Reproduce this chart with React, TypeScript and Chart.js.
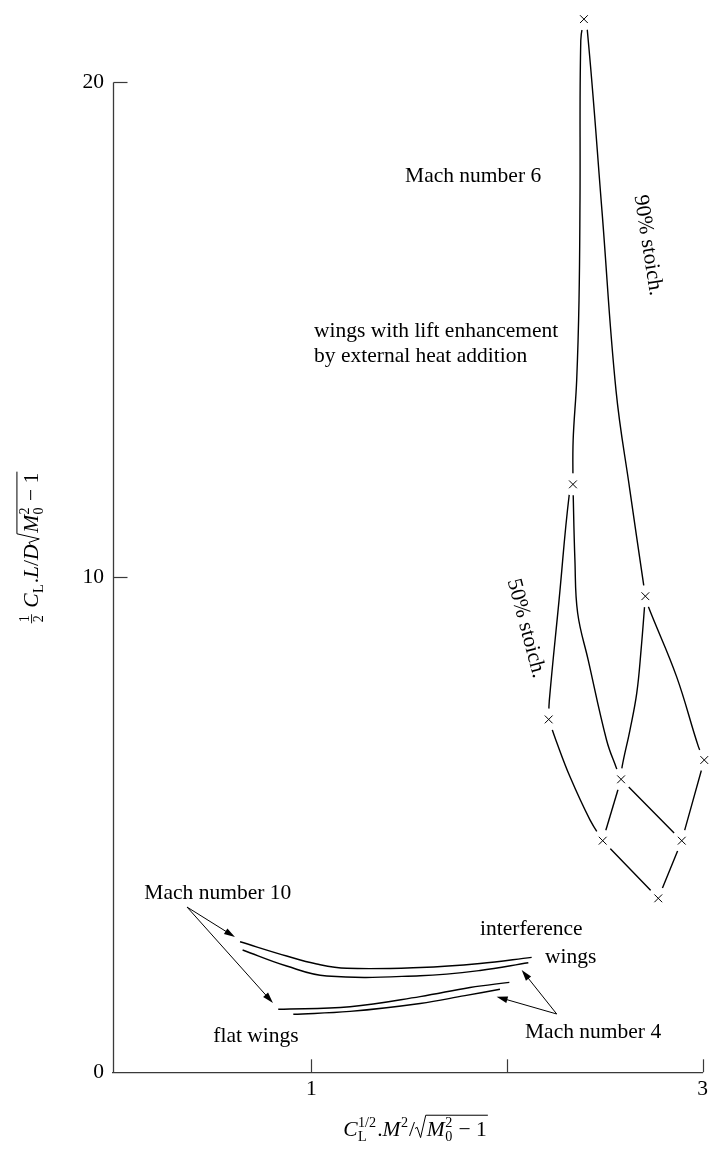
import React, { useEffect, useRef } from 'react';
import { Chart, registerables } from 'chart.js';

Chart.register(...registerables);

const FONT = '"Liberation Serif", "Times New Roman", Times, serif';
const FS = 21.5;
const AXIS = '#3a3a3a';

// axis ticks
const xTickValues = [1, 2, 3];
const xTickLabels = ['1', '', '3'];
const yTickValues = [0, 10, 20];
const yTickLabels = ['0', '10', '20'];
const yAxisLineTop = 20;

// "×" markers of the Mach 6 carpet (external heat addition)
const markerX = [2.393, 2.337, 2.707, 2.213, 2.583, 3.008, 2.489, 2.893, 2.773];
const markerY = [21.28, 11.88, 9.62, 7.13, 5.92, 6.31, 4.68, 4.68, 3.515];

// carpet line segments [x, y]
const segTopP1 = [[2.393, 21.28], [2.377, 20.85], [2.373, 17.62], [2.368, 15.6], [2.356, 13.98], [2.338, 12.77], [2.337, 11.88]];
const segP1P3 = [[2.337, 11.88], [2.318, 11.67], [2.266, 9.54], [2.216, 7.5], [2.213, 7.13]];
const segTopP2 = [[2.393, 21.28], [2.41, 21.07], [2.485, 17.42], [2.557, 13.78], [2.628, 11.76], [2.695, 9.94], [2.707, 9.62]];
const segP2P5 = [[2.707, 9.62], [2.722, 9.41], [2.867, 7.99], [2.978, 6.58], [3.008, 6.31]];
const segP1P4 = [[2.337, 11.88], [2.347, 10.35], [2.361, 9.28], [2.415, 8.33], [2.509, 6.71], [2.557, 6.17], [2.583, 5.92]];
const segP4P7 = [[2.583, 5.92], [2.893, 4.68]];
const segP2P4 = [[2.707, 9.62], [2.685, 8.53], [2.663, 7.66], [2.628, 6.91], [2.588, 6.17], [2.583, 5.92]];
const segP4P6 = [[2.583, 5.92], [2.489, 4.68]];
const segP5P7 = [[3.008, 6.31], [2.893, 4.68]];
const segP7P8 = [[2.893, 4.68], [2.773, 3.515]];
const segP3P6 = [[2.213, 7.13], [2.25, 6.71], [2.322, 5.97], [2.424, 5.1], [2.489, 4.68]];
const segP6P8 = [[2.489, 4.68], [2.773, 3.515]];

// low curves
const interferenceM10 = [[0.636, 2.638], [0.874, 2.349], [1.028, 2.188], [1.181, 2.101], [1.556, 2.117], [1.862, 2.198], [2.126, 2.323]];
const interferenceM4 = [[0.649, 2.471], [0.874, 2.147], [1.079, 1.945], [1.556, 1.952], [1.862, 2.057], [2.109, 2.214]];
const flatM10 = [[0.831, 1.273], [1.198, 1.325], [1.556, 1.53], [1.811, 1.713], [2.012, 1.818]];
const flatM4 = [[0.908, 1.172], [1.198, 1.23], [1.556, 1.39], [1.785, 1.55], [1.964, 1.677]];

// annotation arrows
const arrowFromX = [0.365, 0.365, 2.254, 2.254];
const arrowFromY = [3.339, 3.339, 1.178, 1.178];
const arrowToX = [0.61, 0.804, 2.075, 1.947];
const arrowToY = [2.733, 1.4, 2.067, 1.527];

// annotation texts (left x, baseline y)
const noteTexts = ['Mach number 6', 'wings with lift enhancement', 'by external heat addition', 'Mach number 10', 'flat wings', 'interference', 'wings', 'Mach number 4'];
const noteX = [1.479, 1.014, 1.014, 0.147, 0.499, 1.862, 2.194, 2.092];
const noteY = [17.99, 14.86, 14.36, 3.495, 0.612, 2.774, 2.208, 0.699];

// rotated texts (centre)
const rotTexts = ['90% stoich.', '50% stoich.'];
const rotX = [2.72, 2.097];
const rotY = [16.71, 8.97];
const rotDeg = [81, 75];

type Piece =
  | { k: 't'; s: string; it?: boolean }
  | { k: 'ss'; sub?: string; sup?: string; it?: boolean }
  | { k: 'frac'; n: string; d: string }
  | { k: 'sqrt'; body: Piece[] };

const xTitle: Piece[] = [
  { k: 't', s: 'C', it: true },
  { k: 'ss', sub: 'L', sup: '1/2' },
  { k: 't', s: '.' },
  { k: 't', s: 'M', it: true },
  { k: 'ss', sup: '2' },
  { k: 't', s: '/' },
  { k: 'sqrt', body: [{ k: 't', s: 'M', it: true }, { k: 'ss', sub: '0', sup: '2' }, { k: 't', s: ' \u2212 1' }] },
];

const yTitle: Piece[] = [
  { k: 'frac', n: '1', d: '2' },
  { k: 't', s: ' ' },
  { k: 't', s: 'C', it: true },
  { k: 'ss', sub: 'L' },
  { k: 't', s: '.' },
  { k: 't', s: 'L', it: true },
  { k: 't', s: '/' },
  { k: 't', s: 'D', it: true },
  { k: 'sqrt', body: [{ k: 't', s: 'M', it: true }, { k: 'ss', sub: '0', sup: '2' }, { k: 't', s: ' \u2212 1' }] },
];

function fontStr(size: number, it?: boolean) {
  return `${it ? 'italic ' : ''}${size}px ${FONT}`;
}

function drawPieces(ctx: CanvasRenderingContext2D, pieces: Piece[], x0: number, base: number, size: number, draw: boolean): number {
  let x = x0;
  const small = size * 0.66;
  for (const p of pieces) {
    if (p.k === 't') {
      ctx.font = fontStr(size, p.it);
      const w = ctx.measureText(p.s).width;
      if (draw) ctx.fillText(p.s, x, base);
      x += w;
    } else if (p.k === 'ss') {
      ctx.font = fontStr(small, p.it);
      const w1 = p.sub ? ctx.measureText(p.sub).width : 0;
      const w2 = p.sup ? ctx.measureText(p.sup).width : 0;
      if (draw) {
        if (p.sub) ctx.fillText(p.sub, x + 0.5, base + size * 0.24);
        if (p.sup) ctx.fillText(p.sup, x + 0.5, base - size * 0.42);
      }
      x += Math.max(w1, w2) + 1.5;
    } else if (p.k === 'frac') {
      ctx.font = fontStr(small);
      const w = Math.max(ctx.measureText(p.n).width, ctx.measureText(p.d).width) + 2;
      if (draw) {
        ctx.textAlign = 'center';
        ctx.fillText(p.n, x + w / 2 + 1, base - size * 0.4);
        ctx.fillText(p.d, x + w / 2 + 1, base + size * 0.24);
        ctx.textAlign = 'left';
        ctx.beginPath();
        ctx.lineWidth = 0.9;
        ctx.moveTo(x + 1, base - size * 0.3);
        ctx.lineTo(x + w + 1, base - size * 0.3);
        ctx.stroke();
      }
      x += w + 2;
    } else if (p.k === 'sqrt') {
      const rw = size * 0.5;
      const start = x + rw + 1;
      const end = drawPieces(ctx, p.body, start, base, size, draw);
      if (draw) {
        ctx.beginPath();
        ctx.lineWidth = 1;
        ctx.moveTo(x, base - size * 0.36);
        ctx.lineTo(x + size * 0.1, base - size * 0.42);
        ctx.lineTo(x + size * 0.26, base + size * 0.06);
        ctx.lineTo(x + rw, base - size * 0.98);
        ctx.lineTo(end + 1, base - size * 0.98);
        ctx.stroke();
      }
      x = end + 1;
    }
  }
  return x;
}

function drawRichCentered(ctx: CanvasRenderingContext2D, pieces: Piece[], cx: number, base: number, size: number) {
  ctx.textAlign = 'left';
  ctx.textBaseline = 'alphabetic';
  const w = drawPieces(ctx, pieces, 0, base, size, false);
  drawPieces(ctx, pieces, cx - w / 2, base, size, true);
}

function arrow(ctx: CanvasRenderingContext2D, x1: number, y1: number, x2: number, y2: number) {
  const a = Math.atan2(y2 - y1, x2 - x1);
  const L = 11;
  const W = 3.3;
  const c = Math.cos(a);
  const s = Math.sin(a);
  ctx.beginPath();
  ctx.moveTo(x1, y1);
  ctx.lineTo(x2 - L * 0.7 * c, y2 - L * 0.7 * s);
  ctx.stroke();
  ctx.beginPath();
  ctx.moveTo(x2, y2);
  ctx.lineTo(x2 - L * c + W * s, y2 - L * s - W * c);
  ctx.lineTo(x2 - L * c - W * s, y2 - L * s + W * c);
  ctx.closePath();
  ctx.fill();
}

const decorPlugin = {
  id: 'decor',
  afterDraw(chart: any) {
    const { ctx, chartArea } = chart;
    const xs = chart.scales.x;
    const ys = chart.scales.y;
    ctx.save();
    // y axis line (0 .. 20) and inward ticks
    ctx.strokeStyle = AXIS;
    ctx.lineWidth = 1.3;
    const ax = Math.round(chartArea.left) + 0.5;
    ctx.beginPath();
    ctx.moveTo(ax, ys.getPixelForValue(0));
    ctx.lineTo(ax, ys.getPixelForValue(yAxisLineTop));
    ctx.stroke();
    ctx.lineWidth = 1.2;
    for (const v of yTickValues) {
      if (v === 0) continue;
      const py = Math.round(ys.getPixelForValue(v)) + 0.5;
      ctx.beginPath();
      ctx.moveTo(ax, py);
      ctx.lineTo(ax + 14, py);
      ctx.stroke();
    }
    for (const v of xTickValues) {
      const px = Math.round(xs.getPixelForValue(v)) + 0.5;
      ctx.beginPath();
      ctx.moveTo(px, chartArea.bottom);
      ctx.lineTo(px, chartArea.bottom - 13);
      ctx.stroke();
    }
    // arrows
    ctx.strokeStyle = '#000';
    ctx.fillStyle = '#000';
    ctx.lineWidth = 1;
    for (let i = 0; i < arrowFromX.length; i++) {
      arrow(ctx, xs.getPixelForValue(arrowFromX[i]), ys.getPixelForValue(arrowFromY[i]), xs.getPixelForValue(arrowToX[i]), ys.getPixelForValue(arrowToY[i]));
    }
    // notes
    ctx.font = fontStr(FS);
    ctx.textAlign = 'left';
    ctx.textBaseline = 'alphabetic';
    for (let i = 0; i < noteTexts.length; i++) {
      ctx.fillText(noteTexts[i], xs.getPixelForValue(noteX[i]), ys.getPixelForValue(noteY[i]));
    }
    for (let i = 0; i < rotTexts.length; i++) {
      ctx.save();
      ctx.translate(xs.getPixelForValue(rotX[i]), ys.getPixelForValue(rotY[i]));
      ctx.rotate((rotDeg[i] * Math.PI) / 180);
      ctx.textAlign = 'center';
      ctx.textBaseline = 'middle';
      ctx.fillText(rotTexts[i], 0, 0);
      ctx.restore();
    }
    // axis titles
    ctx.strokeStyle = '#000';
    drawRichCentered(ctx, xTitle, chartArea.left + (chartArea.right - chartArea.left) * 0.513, chartArea.bottom + 64, FS);
    ctx.save();
    ctx.translate(38, 548);
    ctx.rotate(-Math.PI / 2);
    drawRichCentered(ctx, yTitle, 0, 0, FS);
    ctx.restore();
    ctx.restore();
  },
};

const toPts = (arr: number[][]) => arr.map((p) => ({ x: p[0], y: p[1] }));

export default function App() {
  const ref = useRef<HTMLCanvasElement | null>(null);
  useEffect(() => {
    document.body.style.margin = '0';
    document.body.style.overflow = 'hidden';
    const canvas = ref.current;
    if (!canvas) return;
    const markers = markerX.map((x, i) => ({ x, y: markerY[i] }));
    const lineSets = [segTopP1, segP1P3, segTopP2, segP2P5, segP1P4, segP4P7, segP2P4, segP4P6, segP5P7, segP7P8, segP3P6, segP6P8, interferenceM10, interferenceM4, flatM10, flatM4];
    const datasets: any[] = [
      {
        data: markers,
        showLine: false,
        pointStyle: 'crossRot',
        pointRadius: 5.5,
        pointBorderColor: '#000',
        pointBorderWidth: 1,
        order: 0,
        clip: false,
      },
      {
        data: markers,
        showLine: false,
        pointStyle: 'circle',
        pointRadius: 11,
        pointBackgroundColor: '#fff',
        pointBorderWidth: 0,
        pointBorderColor: '#fff',
        order: 1,
        clip: false,
      },
      ...lineSets.map((s) => ({
        data: toPts(s),
        borderColor: '#000',
        borderWidth: 1.4,
        pointRadius: 0,
        tension: 0.4,
        fill: false,
        order: 2,
        clip: false,
      })),
    ];
    const chart = new Chart(canvas, {
      type: 'line',
      data: { datasets },
      options: {
        animation: false,
        responsive: true,
        maintainAspectRatio: false,
        events: [],
        layout: { autoPadding: false, padding: { top: 3.3, right: 7.3, left: 0, bottom: 0 } },
        plugins: { legend: { display: false }, tooltip: { enabled: false } },
        scales: {
          x: {
            type: 'linear',
            min: -0.0133,
            max: 3,
            afterBuildTicks: (s: any) => {
              s.ticks = xTickValues.map((v) => ({ value: v }));
            },
            afterFit: (s: any) => {
              s.height = 77.7;
              s.paddingLeft = 0;
              s.paddingRight = 0;
            },
            ticks: {
              autoSkip: false,
              maxRotation: 0,
              padding: 4.5,
              color: '#000',
              font: { family: FONT, size: FS },
              callback: (_v: any, i: number) => xTickLabels[i],
            },
            grid: { display: false, drawTicks: false },
            border: { display: true, color: AXIS, width: 1.3 },
          },
          y: {
            type: 'linear',
            min: 0,
            max: 21.6,
            afterBuildTicks: (s: any) => {
              s.ticks = yTickValues.map((v) => ({ value: v }));
            },
            afterFit: (s: any) => {
              s.width = 113;
              s.paddingTop = 0;
              s.paddingBottom = 0;
            },
            ticks: {
              autoSkip: false,
              padding: 9,
              color: '#000',
              font: { family: FONT, size: FS },
              callback: (_v: any, i: number) => yTickLabels[i],
            },
            grid: { display: false, drawTicks: false },
            border: { display: false },
          },
        },
      },
      plugins: [decorPlugin],
    });
    return () => chart.destroy();
  }, []);
  return (
    <div style={{ position: 'relative', width: 710, height: 1150 }}>
      <canvas ref={ref} style={{ display: 'block' }} />
    </div>
  );
}
